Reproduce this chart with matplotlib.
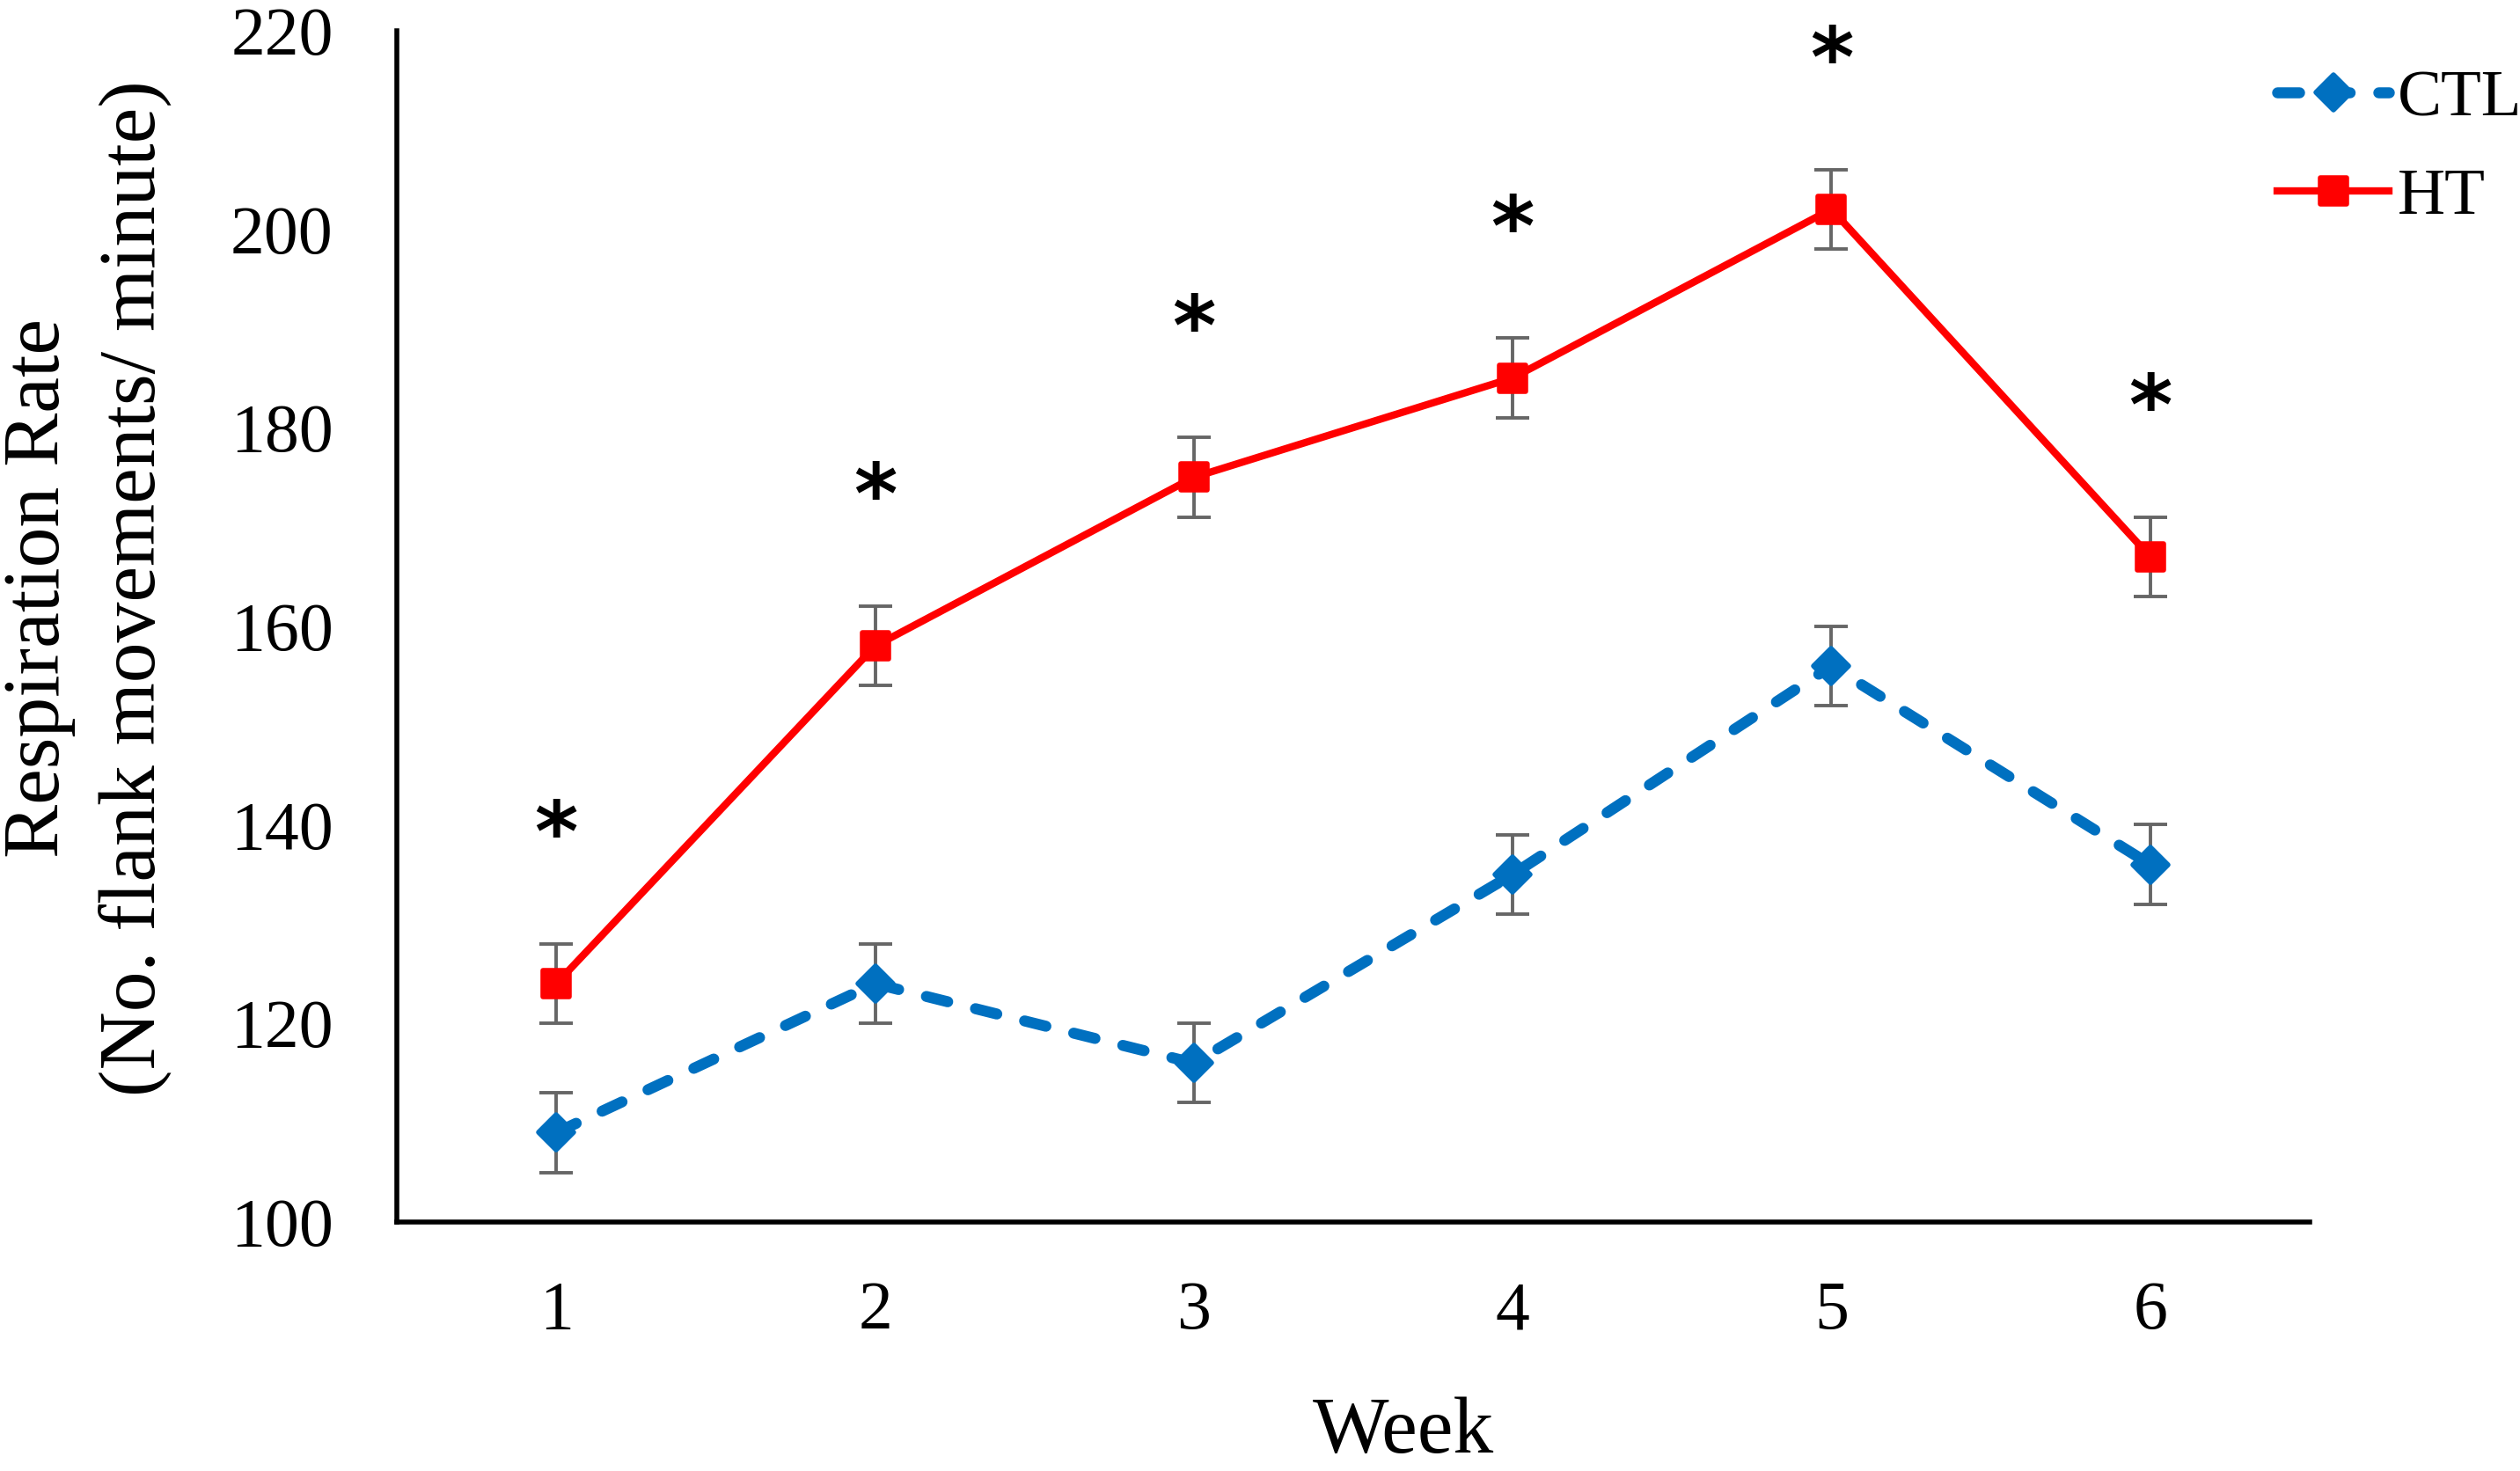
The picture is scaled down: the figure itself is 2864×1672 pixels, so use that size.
import numpy as np
import matplotlib
matplotlib.use('Agg')
import matplotlib.pyplot as plt
from matplotlib.markers import MarkerStyle

weeks = [1, 2, 3, 4, 5, 6]
ctl = [109, 124, 116, 135, 156, 136]
ht = [124, 158, 175, 185, 202, 167]
ctl_err = [4, 4, 4, 4, 4, 4]
ht_err = [4, 4, 4, 4, 4, 4]
yticks = [100, 120, 140, 160, 180, 200, 220]

plt.rcParams['font.family'] = ['Liberation Serif', 'DejaVu Serif']

fig = plt.figure(figsize=(14.32, 8.36), dpi=200)
ax = fig.add_axes([0.1575, 0.1693, 0.759, 0.81])

blue = '#0070C0'
red = '#FF0000'
grey = '#666666'

ax.errorbar(weeks, ctl, yerr=ctl_err, fmt='none', ecolor=grey, elinewidth=1.4,
            capsize=7, capthick=1.4, zorder=2)
ax.errorbar(weeks, ht, yerr=ht_err, fmt='none', ecolor=grey, elinewidth=1.4,
            capsize=7, capthick=1.4, zorder=2)

ax.plot(weeks, ctl, color=blue, linestyle=(0, (2.0, 2.6)), linewidth=4.5,
        dash_capstyle='round', marker=MarkerStyle('D', joinstyle='round'),
        markersize=10, markeredgewidth=2, label='CTL', zorder=3)
ax.plot(weeks, ht, color=red, linewidth=3,
        marker=MarkerStyle('s', joinstyle='round'), markersize=11,
        markeredgewidth=2, label='HT', zorder=4)

# significance stars above the HT error bars
for w, v, e in zip(weeks, ht, ht_err):
    ax.text(w, v + e + 8.4, '*', ha='center', va='baseline', fontsize=34,
            family='DejaVu Sans', fontweight='bold')

ax.set_xlim(0.5, 6.5)
ax.set_ylim(100, 220)
ax.set_xticks(weeks)
ax.set_yticks(yticks)
ax.tick_params(length=0, labelsize=28)
ax.tick_params(axis='x', pad=24)
ax.tick_params(axis='y', pad=26)
for s in ['top', 'right']:
    ax.spines[s].set_visible(False)
for s in ['left', 'bottom']:
    ax.spines[s].set_linewidth(2.0)

fig.text(0.557, 0.001, 'Week', fontsize=33, ha='center', va='bottom')
fig.text(0.0345, 0.6, 'Respiration Rate\n(No. flank movements/ minute)', fontsize=33,
         rotation=90, ha='center', va='center', multialignment='center',
         linespacing=1.4)

handles, labels = ax.get_legend_handles_labels()
fig.legend(handles, labels, loc='upper left', bbox_to_anchor=(0.9036, 0.953),
           frameon=False, fontsize=27, handlelength=1.7, handletextpad=0.13,
           labelspacing=0.58, borderaxespad=0, borderpad=0)

fig.savefig('out.png', dpi=200)
